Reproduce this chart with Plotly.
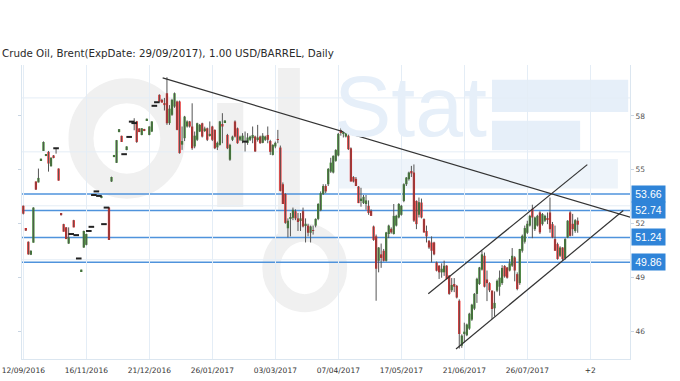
import plotly.graph_objects as go

# ---------------- data ----------------
title_text = "Crude Oil, Brent(ExpDate: 29/09/2017), 1.00 USD/BARREL, Daily"
tick_positions = [0, 25, 50, 75, 100, 125, 150, 175, 200, 225]
tick_labels = ["12/09/2016", "16/11/2016", "21/12/2016", "26/01/2017", "03/03/2017",
               "07/04/2017", "17/05/2017", "21/06/2017", "26/07/2017", "+2"]
price_ticks = [46, 49, 52, 55, 58]
grid_levels = [50, 53, 56, 59]
levels = [53.66, 52.74, 51.24, 49.86]

# drawn trend lines (bar index, price)
trend_down_x = [55.3, 240.8]
trend_down_y = [60.11, 52.37]
channel_up_x = [160.7, 223.8]
channel_up_y = [48.11, 55.29]
channel_low_x = [171.7, 238.1]
channel_low_y = [45.04, 52.74]

opens = [
    53.00, 51.72, 51.00, 50.28, 50.95, 54.35, 54.30, 55.52, 56.05, 55.78,
    56.00, 55.20, 55.80, 56.20, 55.07, 52.58, 51.98, 51.80, 50.90, 51.43,
    52.20, 51.37, 50.07, 49.35, 50.68, 50.83, 51.60, 51.83, 53.60, 53.80,
    53.55, 53.44, 51.98, 52.90, 52.90, 54.35, 55.72, 55.39, 57.10, 56.89,
    55.87, 56.10, 56.83, 57.68, 57.60, 57.70, 57.30, 56.94, 57.27, 57.74,
    56.94, 57.13, 58.56, 58.76, 59.17, 58.89, 58.70, 59.26, 57.60, 58.06,
    58.52, 58.80, 58.80, 56.40, 56.76, 57.41, 57.69, 57.41, 56.30, 56.67,
    57.13, 57.59, 57.20, 57.31, 56.90, 57.41, 57.22, 56.25, 56.39, 57.50,
    57.64, 56.94, 55.56, 56.67, 57.69, 57.31, 56.67, 56.60, 56.57, 56.50,
    56.67, 56.76, 56.85, 56.70, 56.85, 56.50, 56.67, 56.94, 56.60, 55.83,
    56.30, 56.70, 56.24, 54.20, 53.66, 51.75, 52.30, 52.33, 52.70, 52.30,
    52.20, 52.70, 51.90, 51.90, 51.50, 51.65, 51.90, 52.27, 52.75, 53.66,
    54.10, 54.20, 54.90, 54.85, 55.50, 55.80, 57.20, 57.00, 56.85, 56.90,
    56.20, 54.60, 54.50, 54.07, 53.30, 53.15, 53.10, 53.00, 52.72, 51.85,
    51.30, 49.94, 50.30, 50.50, 49.94, 51.43, 51.72, 51.43, 51.90, 52.35,
    52.50, 53.27, 54.20, 54.48, 54.90, 54.85, 53.27, 52.50, 53.18, 52.26,
    51.60, 51.05, 50.96, 50.96, 49.85, 49.67, 49.30, 49.30, 49.67, 49.11,
    48.30, 48.60, 48.55, 47.72, 45.22, 45.90, 45.80, 46.17, 46.67, 47.28,
    48.10, 48.65, 49.45, 50.22, 48.90, 48.70, 48.28, 47.30, 48.28, 48.50,
    48.70, 49.65, 49.57, 49.40, 49.67, 50.13, 49.20, 48.70, 50.50, 51.00,
    51.50, 51.90, 52.83, 51.70, 51.90, 52.63, 51.98, 52.17, 52.30, 52.63,
    51.98, 51.15, 50.87, 50.22, 50.68, 50.10, 51.24, 52.63, 52.00, 51.60,
    52.17,
]
highs = [
    53.02, 51.74, 51.02, 50.52, 52.92, 54.36, 55.07, 55.62, 56.58, 55.88,
    56.05, 55.70, 55.82, 56.20, 55.08, 52.60, 52.00, 51.82, 51.80, 51.43,
    52.22, 51.37, 50.07, 49.45, 51.62, 51.45, 51.60, 51.83, 53.60, 53.80,
    53.55, 53.56, 51.98, 52.90, 52.92, 54.62, 55.83, 56.66, 57.27, 56.90,
    55.87, 56.31, 56.83, 57.68, 57.87, 57.72, 57.32, 57.32, 57.28, 57.85,
    57.42, 57.70, 58.56, 58.76, 59.20, 58.95, 59.00, 60.15, 58.60, 58.95,
    59.30, 58.85, 58.85, 57.41, 58.00, 57.75, 57.72, 58.70, 57.13, 57.62,
    57.55, 57.62, 57.40, 57.35, 57.69, 57.45, 57.25, 56.57, 57.72, 58.15,
    57.76, 57.00, 56.45, 56.90, 57.75, 57.35, 56.90, 57.04, 57.13, 57.04,
    56.90, 57.41, 56.90, 57.50, 56.90, 57.04, 56.90, 57.41, 56.67, 56.42,
    56.57, 57.22, 56.35, 54.30, 53.70, 52.30, 52.60, 52.90, 52.80, 52.60,
    52.60, 52.90, 52.30, 52.00, 51.90, 51.90, 52.30, 53.15, 53.80, 54.20,
    54.20, 55.10, 55.67, 55.80, 56.15, 57.05, 57.35, 57.30, 57.20, 57.05,
    56.25, 54.65, 54.60, 54.10, 54.00, 53.60, 53.60, 53.30, 52.80, 51.90,
    51.40, 50.70, 50.90, 50.60, 51.55, 51.95, 51.80, 53.10, 52.50, 53.15,
    53.05, 54.25, 54.60, 54.90, 55.22, 55.30, 53.30, 53.46, 53.40, 52.30,
    51.90, 51.10, 51.30, 51.00, 49.90, 49.70, 49.80, 49.95, 49.70, 49.15,
    48.98, 48.98, 48.60, 47.80, 45.85, 46.50, 46.45, 47.05, 47.55, 48.15,
    49.00, 49.60, 50.50, 50.40, 49.40, 48.75, 48.30, 48.24, 48.90, 49.40,
    49.70, 49.70, 49.60, 50.04, 50.65, 50.20, 49.30, 50.60, 51.40, 51.90,
    52.17, 52.50, 53.06, 52.40, 52.50, 52.70, 52.60, 52.50, 52.63, 53.46,
    52.10, 51.90, 50.95, 50.75, 50.70, 51.20, 52.20, 52.70, 52.55, 52.26,
    52.35,
]
lows = [
    52.52, 51.60, 50.28, 50.26, 50.95, 53.88, 54.30, 55.50, 56.05, 55.76,
    54.90, 55.18, 55.64, 55.90, 54.40, 52.46, 51.56, 51.15, 50.88, 51.43,
    51.80, 51.37, 50.07, 49.33, 50.66, 50.80, 51.60, 51.83, 53.60, 53.80,
    53.55, 53.42, 51.98, 52.90, 51.10, 54.33, 55.70, 55.38, 57.09, 56.55,
    55.87, 56.09, 56.83, 57.68, 57.20, 56.50, 57.10, 56.92, 57.15, 57.72,
    56.92, 57.10, 58.56, 58.76, 58.80, 58.74, 58.30, 57.50, 57.50, 58.00,
    58.45, 57.20, 55.90, 56.11, 56.60, 57.35, 57.35, 56.11, 56.20, 56.60,
    57.10, 56.80, 57.10, 56.60, 56.85, 56.60, 56.15, 56.10, 56.35, 56.48,
    57.62, 56.15, 55.50, 56.60, 56.80, 56.45, 56.60, 56.48, 56.02, 56.39,
    56.60, 56.48, 56.00, 56.57, 56.45, 56.48, 56.60, 56.48, 55.83, 55.80,
    56.20, 56.48, 53.80, 53.10, 52.00, 51.24, 51.30, 52.20, 52.20, 51.60,
    51.60, 51.80, 50.96, 51.30, 50.96, 51.40, 51.80, 52.20, 52.70, 53.60,
    53.70, 54.10, 54.83, 54.80, 55.45, 55.75, 56.90, 56.80, 56.80, 56.10,
    54.35, 54.30, 54.10, 53.15, 52.95, 53.10, 52.78, 52.50, 52.44, 51.05,
    47.72, 49.30, 49.55, 49.90, 49.90, 51.20, 51.45, 51.40, 51.85, 52.30,
    52.45, 53.20, 54.10, 54.40, 54.60, 52.10, 51.70, 52.35, 52.30, 51.50,
    50.96, 50.60, 49.85, 50.25, 49.35, 48.93, 49.00, 49.10, 48.90, 48.05,
    48.20, 48.20, 47.85, 45.06, 45.10, 45.40, 45.75, 46.10, 46.60, 47.20,
    47.60, 48.60, 49.40, 48.46, 47.70, 48.20, 46.70, 46.85, 48.20, 48.00,
    48.60, 49.00, 48.95, 49.35, 49.60, 48.80, 48.30, 48.60, 50.40, 50.90,
    51.43, 51.85, 51.20, 51.60, 51.85, 51.43, 51.90, 52.10, 51.98, 51.50,
    51.20, 50.50, 50.00, 50.15, 49.94, 50.00, 51.20, 51.30, 51.33, 51.50,
    51.50,
]
closes = [
    52.56, 51.62, 50.30, 50.50, 52.90, 53.90, 54.55, 55.62, 56.55, 55.88,
    55.35, 55.67, 55.66, 56.20, 54.40, 52.48, 51.56, 51.15, 51.24, 51.43,
    51.80, 51.37, 50.07, 49.45, 51.60, 51.43, 51.60, 51.83, 53.60, 53.80,
    53.55, 53.55, 51.98, 52.90, 51.10, 54.60, 55.82, 56.65, 57.26, 56.55,
    55.87, 56.30, 56.83, 57.68, 57.60, 56.55, 57.10, 57.31, 57.17, 57.84,
    57.41, 57.69, 58.56, 58.76, 58.80, 58.74, 58.60, 57.59, 58.40, 58.89,
    59.26, 57.22, 55.93, 56.60, 57.96, 57.69, 57.41, 56.20, 56.90, 57.59,
    57.50, 56.85, 57.30, 56.67, 57.00, 56.67, 56.20, 56.50, 57.69, 57.41,
    57.74, 56.20, 56.39, 56.85, 56.85, 56.48, 56.85, 56.90, 56.57, 56.80,
    56.85, 56.94, 56.02, 56.80, 56.48, 56.90, 56.85, 56.67, 56.00, 56.39,
    56.50, 56.67, 53.83, 53.10, 52.05, 52.17, 52.35, 52.78, 52.30, 52.10,
    52.30, 51.85, 52.00, 51.50, 51.85, 51.60, 52.27, 53.10, 53.70, 54.10,
    53.80, 55.05, 55.40, 55.78, 56.10, 57.00, 57.05, 57.10, 57.13, 56.15,
    54.35, 54.35, 54.10, 53.15, 53.40, 53.50, 53.30, 52.60, 52.44, 51.10,
    49.50, 50.68, 50.10, 49.94, 51.52, 51.90, 51.52, 52.44, 52.44, 53.10,
    53.00, 54.20, 54.57, 54.85, 54.80, 52.17, 51.98, 53.20, 52.35, 51.52,
    51.30, 50.68, 50.50, 50.30, 49.39, 49.30, 49.50, 49.67, 48.93, 48.10,
    48.60, 48.50, 47.90, 45.87, 45.78, 46.00, 46.40, 47.00, 47.50, 48.10,
    48.94, 49.57, 50.30, 48.50, 48.70, 48.30, 47.26, 47.60, 48.83, 49.00,
    49.54, 49.07, 49.00, 49.80, 50.22, 49.40, 48.37, 50.60, 51.33, 51.76,
    52.00, 52.44, 52.35, 52.35, 52.44, 51.52, 52.54, 52.44, 52.25, 51.70,
    51.24, 50.50, 50.04, 50.68, 50.04, 51.15, 52.17, 51.33, 51.70, 52.20,
    51.95,
]

# ---------------- figure ----------------
UP = "#3a8c2a"
DOWN = "#ee1d1d"
GRID = "#e4edf6"

idx = list(range(len(opens)))
body_len = [c - o for o, c in zip(opens, closes)]
body_col = [UP if c > o else DOWN for o, c in zip(opens, closes)]

wick_x, wick_y = [], []
for i, (h, l) in enumerate(zip(highs, lows)):
    wick_x += [i, i, None]
    wick_y += [l, h, None]

dash_x = [i for i, (o, c) in enumerate(zip(opens, closes)) if o == c]
dash_y = [opens[i] for i in dash_x]

fig = go.Figure()

fig.add_trace(go.Scatter(x=wick_x, y=wick_y, mode="lines",
                         line=dict(color="#555555", width=1), hoverinfo="skip"))
fig.add_trace(go.Bar(x=idx, y=body_len, base=opens, width=0.9,
                     marker=dict(color=body_col, line=dict(width=0))))
fig.add_trace(go.Scatter(x=dash_x, y=dash_y, mode="markers",
                         marker=dict(symbol="line-ew", size=4,
                                     line=dict(color="#222222", width=2))))
for tx, ty in [(trend_down_x, trend_down_y), (channel_up_x, channel_up_y),
               (channel_low_x, channel_low_y)]:
    fig.add_trace(go.Scatter(x=tx, y=ty, mode="lines",
                             line=dict(color="#333333", width=1.2)))

shapes = []
# faint "OilStat" watermark (paper coordinates)
WM_GREY = "#f0f0f0"
WM_BLUE = "#e6eff9"
shapes.append(dict(type="circle", xref="paper", yref="paper", layer="below",
                   x0=0.097, x1=0.248, y0=0.588, y1=0.912,
                   line=dict(color=WM_GREY, width=25)))
shapes.append(dict(type="rect", xref="paper", yref="paper", layer="below",
                   x0=0.321, x1=0.364, y0=0.517, y1=0.871,
                   fillcolor=WM_GREY, line=dict(width=0)))
shapes.append(dict(type="rect", xref="paper", yref="paper", layer="below",
                   x0=0.421, x1=0.457, y0=0.42, y1=0.99,
                   fillcolor=WM_GREY, line=dict(width=0)))
shapes.append(dict(type="circle", xref="paper", yref="paper", layer="below",
                   x0=0.41, x1=0.52, y0=0.19, y1=0.43,
                   line=dict(color=WM_GREY, width=18)))
shapes.append(dict(type="rect", xref="paper", yref="paper", layer="below",
                   x0=0.773, x1=0.997, y0=0.84, y1=0.95,
                   fillcolor=WM_BLUE, line=dict(width=0)))
shapes.append(dict(type="rect", xref="paper", yref="paper", layer="below",
                   x0=0.773, x1=0.918, y0=0.71, y1=0.81,
                   fillcolor=WM_BLUE, line=dict(width=0)))
shapes.append(dict(type="rect", xref="paper", yref="paper", layer="below",
                   x0=0.52, x1=0.98, y0=0.58, y1=0.68,
                   fillcolor="#eef4fa", line=dict(width=0)))
# horizontal grid
for g in grid_levels:
    shapes.append(dict(type="line", xref="paper", yref="y", layer="below",
                       x0=0, x1=1, y0=g, y1=g, line=dict(color=GRID, width=1)))
# support / resistance levels
for lv in levels:
    shapes.append(dict(type="line", xref="paper", yref="y", layer="between",
                       x0=0, x1=1, y0=lv, y1=lv,
                       line=dict(color="#4f93dc", width=1.5)))

annotations = [
    dict(text="Stat", xref="paper", yref="paper", x=0.51, y=0.86,
         xanchor="left", yanchor="middle", showarrow=False,
         font=dict(family="Arial", size=86, color=WM_BLUE))
]
for lv in levels:
    annotations.append(dict(text=f"{lv:.2f}", xref="paper", yref="y", x=1, y=lv,
                            xanchor="left", yanchor="middle", xshift=1,
                            showarrow=False, bgcolor="#2f84d8",
                            width=31, height=14, borderpad=1,
                            font=dict(family="Arial", size=10.5, color="white")))

fig.update_layout(
    width=680, height=381,
    margin=dict(l=22, r=50, t=65, b=22),
    paper_bgcolor="white", plot_bgcolor="white",
    showlegend=False, barmode="overlay",
    title=dict(text=title_text, x=0.003, xref="container", xanchor="left",
               y=1 - 53 / 381, yref="container", yanchor="middle",
               font=dict(family="DejaVu Sans", size=10.3, color="#2a2a2a")),
    xaxis=dict(range=[-0.52, 240.75], tickvals=tick_positions, ticktext=tick_labels,
               showgrid=True, gridcolor=GRID, gridwidth=1, zeroline=False,
               showline=True, linecolor="#dbe6f0", ticks="", automargin=False,
               ticklabeloverflow="allow", ticklabelstandoff=4,
               tickfont=dict(family="DejaVu Sans", size=7.5, color="#333333")),
    yaxis=dict(range=[44.48, 60.83], side="right", tickvals=price_ticks,
               showgrid=False, zeroline=False, showline=True, linecolor="#dbe6f0",
               mirror="ticks", ticks="outside", ticklen=3, tickcolor="#c9d5e2",
               automargin=False,
               tickfont=dict(family="DejaVu Sans", size=7.5, color="#555555")),
    shapes=shapes,
    annotations=annotations,
)

fig.write_html("out.html")
